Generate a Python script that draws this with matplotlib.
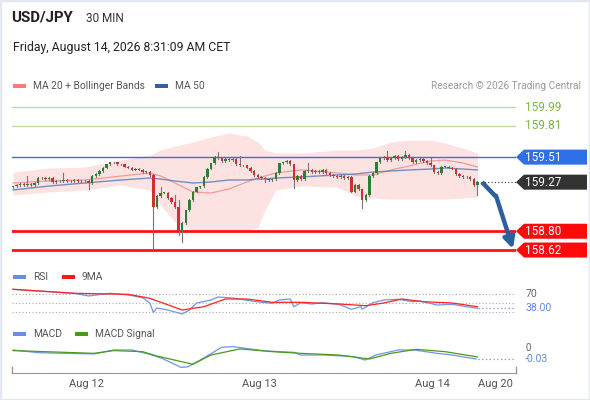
import matplotlib
matplotlib.use("Agg")
import matplotlib.pyplot as plt
from matplotlib.patches import Rectangle, Polygon

plt.rcParams['font.family'] = ['Roboto', 'DejaVu Sans']

W, H = 590, 400

# 30 min candles, closes (open = previous close)
first_open = 159.22
closes = [
    159.23, 159.24, 159.25, 159.24, 159.25, 159.24, 159.26, 159.31, 159.31, 159.30,
    159.31, 159.27, 159.28, 159.28, 159.29, 159.28, 159.28, 159.29, 159.28, 159.28,
    159.28, 159.26, 159.33, 159.35, 159.38, 159.41, 159.44, 159.46, 159.46, 159.44,
    159.44, 159.42, 159.41, 159.39, 159.40, 159.39, 159.37, 159.37, 159.34, 159.03,
    159.14, 159.17, 159.17, 159.12, 159.08, 159.03, 158.80, 158.88, 159.00, 159.10,
    159.18, 159.22, 159.23, 159.32, 159.40, 159.45, 159.51, 159.50, 159.47, 159.49,
    159.48, 159.49, 159.44, 159.43, 159.43, 159.41, 159.38, 159.34, 159.32, 159.31,
    159.30, 159.29, 159.30, 159.36, 159.45, 159.46, 159.47, 159.44, 159.29, 159.33,
    159.30, 159.38, 159.39, 159.37, 159.38, 159.37, 159.39, 159.36, 159.34, 159.33,
    159.32, 159.33, 159.31, 159.32, 159.18, 159.24, 159.20, 159.10, 159.15, 159.33,
    159.36, 159.46, 159.50, 159.51, 159.48, 159.50, 159.52, 159.49, 159.51, 159.53,
    159.50, 159.46, 159.48, 159.49, 159.47, 159.45, 159.43, 159.37, 159.36, 159.42,
    159.42, 159.41, 159.40, 159.35, 159.33, 159.32, 159.32, 159.30, 159.24, 159.27,
]
# notable wicks (candle index -> price), others end just past the body
wick_hi = {4: 159.33, 14: 159.36, 41: 159.22, 45: 159.15, 46: 159.10, 57: 159.56,
           63: 159.52, 82: 159.45, 104: 159.57, 109: 159.57, 116: 159.51}
wick_lo = {21: 159.20, 39: 158.62, 46: 158.76, 47: 158.70, 70: 159.27, 78: 159.21,
           97: 159.02, 129: 159.15}
WICK_PAD = 0.008

# MA20 + Bollinger, MA50 (sampled at candle indices)
band_idx = [0, 10, 20, 30, 38, 41, 45, 50, 55, 60, 65, 68, 70, 73, 80, 90, 95, 100,
            105, 110, 116, 120, 125, 129]
bb_upper = [159.367, 159.406, 159.415, 159.482, 159.530, 159.578, 159.616, 159.655,
            159.703, 159.741, 159.712, 159.655, 159.578, 159.549, 159.549, 159.578,
            159.578, 159.597, 159.655, 159.674, 159.674, 159.645, 159.597, 159.549]
bb_lower = [159.147, 159.176, 159.195, 159.243, 159.195, 159.051, 158.888, 158.812,
            158.812, 158.812, 158.812, 158.831, 159.003, 159.195, 159.233, 159.224,
            159.138, 159.118, 159.109, 159.109, 159.109, 159.109, 159.118, 159.128]
ma20 = [159.262, 159.281, 159.291, 159.329, 159.358, 159.329, 159.262, 159.176,
        159.166, 159.205, 159.272, 159.310, 159.329, 159.358, 159.387, 159.358,
        159.339, 159.339, 159.387, 159.425, 159.473, 159.482, 159.454, 159.415]
ma50 = [159.195, 159.233, 159.262, 159.291, 159.310, 159.300, 159.281, 159.262,
        159.272, 159.291, 159.291, 159.300, 159.300, 159.310, 159.320, 159.339,
        159.348, 159.367, 159.377, 159.387, 159.396, 159.406, 159.396, 159.387]

# RSI and its 9MA
rsi_idx = [0, 7, 17, 21, 27, 32, 36, 38, 39, 40, 43, 47, 49, 51, 55, 57, 61, 67.5,
           72, 74, 77, 78, 80, 83, 86, 90.5, 94, 96.7, 97, 100, 103, 107, 111, 113,
           117.8, 122, 126, 129]
rsi_vals = [81.5, 77.6, 72.3, 66.1, 72.3, 68.4, 62.2, 50.0, 28.6, 38.5, 33.9, 24.7,
            33.9, 50.0, 56.9, 63.8, 61.5, 53.0, 49.3, 56.9, 59.2, 41.5, 50.7, 47.7,
            50.7, 47.0, 35.5, 41.5, 35.5, 50.7, 56.9, 58.5, 53.0, 54.6, 45.4, 47.0,
            41.5, 38.0]
ma9_idx = [0, 17, 32, 38, 47, 53, 59, 65, 72, 80, 90.5, 98, 103, 108, 114, 122, 129]
ma9_vals = [81.5, 72.3, 70.0, 60.8, 33.9, 41.5, 59.2, 59.2, 51.6, 51.6, 47.7, 43.8,
            50.0, 59.2, 53.0, 50.0, 41.5]

# MACD and signal
macd_idx = [0, 7, 22.5, 28, 33, 38, 41.4, 46.7, 48.6, 52.8, 58, 61, 69.4, 73.6, 78,
            80, 86.4, 94.7, 97.8, 100.8, 107, 111.4, 117.8, 122, 128.6]
macd_vals = [0.013, 0.0, -0.006, 0.013, 0.013, -0.008, -0.027, -0.070, -0.067,
             -0.027, 0.026, 0.029, 0.010, 0.005, 0.002, -0.011, -0.011, -0.019,
             -0.035, -0.011, 0.013, 0.013, -0.003, -0.011, -0.030]
sig_idx = [0, 22.5, 28, 36, 40, 50, 55, 63, 72, 80, 90.5, 99, 105, 112, 120, 129]
sig_vals = [0.010, -0.003, 0.010, 0.005, -0.016, -0.055, -0.011, 0.018, 0.005,
            -0.003, -0.011, -0.030, -0.003, 0.016, 0.005, -0.020]

last_price = 159.27
date_ticks = [20.5, 68.5, 116.5, 134]
date_labels = ['Aug 12', 'Aug 13', 'Aug 14', 'Aug 20']

# pixel layout helpers
X_LEFT, X_RIGHT = 12, 516
XLIM = ((X_LEFT - 13) / 3.6, (X_RIGHT - 13) / 3.6)


def rect(y0, y1):
    return [X_LEFT / W, 1 - y1 / H, (X_RIGHT - X_LEFT) / W, (y1 - y0) / H]


def fx(x):
    return x / W


def fy(y):
    return 1 - y / H


def px2idx(x):
    return (x - 13) / 3.6


fig = plt.figure(figsize=(W / 100, H / 100), dpi=100)
fig.patches.append(Rectangle((0, 0), 1, 1, transform=fig.transFigure, fill=False,
                             edgecolor='#e3e8ee', lw=2.5))

# header
fig.text(fx(11), fy(18), 'USD/JPY', fontsize=10.8, weight='bold', color='#222', va='center')
fig.text(fx(86), fy(18), '30 MIN', fontsize=8.5, color='#333', va='center')
fig.text(fx(13), fy(47), 'Friday, August 14, 2026 8:31:09 AM CET', fontsize=8.8,
         color='#222', va='center')


def legend_item(x, y, color, label, text_color='#555'):
    fig.patches.append(Rectangle((fx(x), fy(y + 2)), 13 / W, 4 / H, transform=fig.transFigure,
                                 color=color, lw=0))
    fig.text(fx(x + 20), fy(y), label, fontsize=7.4, color=text_color, va='center')


legend_item(13, 86, '#f47c7c', 'MA 20 + Bollinger Bands')
legend_item(155, 86, '#3a5f9f', 'MA 50')
fig.text(fx(581), fy(86), 'Research \u00a9 2026 Trading Central', fontsize=7.3,
         color='#9a9a9a', va='center', ha='right')

# ---- main price chart ----
ax = fig.add_axes(rect(95, 260))
ax.set_xlim(*XLIM)
ax.set_ylim(158.5245, 160.105)
ax.axis('off')

ax.fill_between(band_idx, bb_lower, bb_upper, color='#fde2e2', lw=0, zorder=1)
ax.plot(band_idx, ma20, color='#f29a9a', lw=0.9, zorder=2)
ax.plot(band_idx, ma50, color='#5a7fbf', lw=1.0, alpha=0.85, zorder=2)

opens = [first_open] + closes[:-1]
for i, (o, c) in enumerate(zip(opens, closes)):
    top, bot = max(o, c), min(o, c)
    hi = wick_hi.get(i, top + WICK_PAD)
    lo = wick_lo.get(i, bot - WICK_PAD)
    ax.plot([i, i], [lo, hi], color='#777', lw=0.8, zorder=3)
    col = '#2e7d32' if c >= o else '#d32f2f'
    ax.add_patch(Rectangle((i - 0.35, bot), 0.7, max(top - bot, 0.004), color=col,
                           lw=0, zorder=4))

# levels
ax.axhline(159.99, color='#b9e0a0', lw=1.0, zorder=1)
ax.axhline(159.81, color='#b9e0a0', lw=1.0, zorder=1)
ax.axhline(159.51, color='#3b6fd6', lw=1.0, zorder=2)
ax.axhline(158.80, color='#ff1010', lw=2.0, zorder=2)
ax.axhline(158.62, color='#ff1010', lw=2.0, zorder=2)
ax.plot([len(closes), XLIM[1]], [last_price, last_price], color='#333', lw=0.8,
        ls=(0, (1, 2)), zorder=2)

tip, body, end = px2idx(516), px2idx(524), px2idx(587)
half = 7.5 / 104.4
for lvl, face in [(159.51, '#2f6fe8'), (last_price, '#333333'),
                  (158.80, '#ff0a0a'), (158.62, '#ff0a0a')]:
    ax.add_patch(Polygon([(tip, lvl), (body, lvl + half), (end, lvl + half),
                          (end, lvl - half), (body, lvl - half)], closed=True,
                         color=face, lw=0, clip_on=False, zorder=5))
    ax.text(px2idx(525), lvl, f'{lvl:.2f}', color='white', fontsize=8.5, va='center',
            clip_on=False, zorder=6)
for lvl in (159.99, 159.81):
    ax.text(px2idx(525), lvl, f'{lvl:.2f}', color='#78b83c', fontsize=8.5, va='center',
            clip_on=False)

# forecast arrow
arrow_col = '#2f5e9c'
ax.plot([px2idx(482), px2idx(496)], [159.27, 159.13], color=arrow_col, lw=3.2,
        solid_capstyle='butt', zorder=6)
ax.annotate('', xy=(px2idx(513), 158.63), xytext=(px2idx(496), 159.14),
            arrowprops=dict(arrowstyle='-|>', lw=3.2, color=arrow_col,
                            mutation_scale=16, shrinkA=0, shrinkB=0),
            annotation_clip=False, zorder=6)

# ---- RSI panel ----
legend_item(13, 277, '#6a8fe0', 'RSI')
legend_item(62, 277, '#ff1a1a', '9MA')
ax_rsi = fig.add_axes(rect(284, 320))
ax_rsi.set_xlim(*XLIM)
ax_rsi.set_ylim(10.9, 93.7)
ax_rsi.axis('off')
for lvl in (70, 50, 30):
    ax_rsi.axhline(lvl, color='#aaaaaa', lw=0.8, ls=(0, (1, 2)))
ax_rsi.plot(rsi_idx, rsi_vals, color='#7095e6', lw=0.9)
ax_rsi.plot(ma9_idx, ma9_vals, color='#ff2020', lw=0.9)
ax_rsi.plot([px2idx(478), px2idx(514)], [rsi_vals[-1]] * 2, color='#7095e6', lw=0.9,
            ls=(0, (1, 2)))
ax_rsi.text(px2idx(526), 70, '70', fontsize=7.5, color='#666', va='center', clip_on=False)
ax_rsi.text(px2idx(525), rsi_vals[-1], f'{rsi_vals[-1]:.2f}', fontsize=7.5,
            color='#6688dd', va='center', clip_on=False)

# ---- MACD panel ----
legend_item(13, 334, '#6a8fe0', 'MACD')
legend_item(75, 334, '#4a9a1a', 'MACD Signal')
ax_m = fig.add_axes(rect(342, 373))
ax_m.set_xlim(*XLIM)
ax_m.set_ylim(-0.0967, 0.051)
for s in ('top', 'right', 'left'):
    ax_m.spines[s].set_visible(False)
ax_m.spines['bottom'].set_color('#999')
ax_m.set_yticks([])
ax_m.set_xticks(date_ticks)
ax_m.set_xticklabels(date_labels)
ax_m.tick_params(axis='x', length=0, pad=4, labelsize=8, labelcolor='#555')
ax_m.plot(macd_idx, macd_vals, color='#7095e6', lw=0.9)
ax_m.plot(sig_idx, sig_vals, color='#4a9a1a', lw=0.9)
ax_m.plot([px2idx(478), px2idx(514)], [macd_vals[-1]] * 2, color='#7095e6', lw=0.9,
          ls=(0, (1, 2)))
ax_m.text(px2idx(526), 0.0225, '0', fontsize=7, color='#666', va='center', clip_on=False)
ax_m.text(px2idx(525), macd_vals[-1], f'{macd_vals[-1]:.2f}', fontsize=7.5,
          color='#6688dd', va='center', clip_on=False)
for xe in XLIM:
    ax_m.plot([xe, xe], [-0.0967, -0.0967 + 6 / 210], color='#999', lw=1, clip_on=False)

fig.savefig('out.png', dpi=100)
